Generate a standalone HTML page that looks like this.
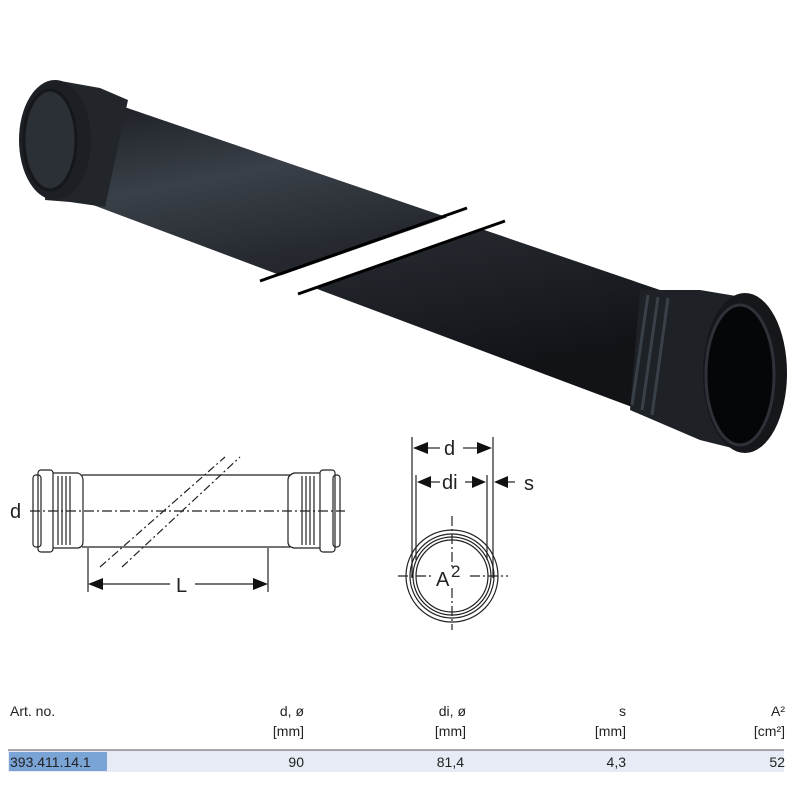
<!DOCTYPE html>
<html><head><style>
body{margin:0;width:800px;height:800px;background:#fff;overflow:hidden;font-family:"Liberation Sans",sans-serif;position:relative}
.t{position:absolute;font-size:14px;color:#222;line-height:20px}
.r{text-align:right}
</style></head><body>
<svg width="800" height="800" style="position:absolute;left:0;top:0">
<defs>
<linearGradient id="g" x1="0" y1="0" x2="0.35" y2="1">
<stop offset="0" stop-color="#1a1d22"/><stop offset="0.3" stop-color="#3a4048"/><stop offset="0.55" stop-color="#262a30"/><stop offset="1" stop-color="#111317"/>
</linearGradient>
</defs>
<polygon points="95,97 660,290 640,410 85,202" fill="url(#g)"/>
<polygon points="55,80 100,88 128,100 105,207 70,202 45,200" fill="#22262b"/>
<ellipse cx="55" cy="140" rx="36" ry="60" fill="#1c1f24"/>
<ellipse cx="50" cy="140" rx="26" ry="50" fill="#2b3036" stroke="#15171a" stroke-width="3"/>
<polygon points="640,290 700,290 760,300 740,450 700,440 630,410" fill="#1e2126"/>
<line x1="648" y1="295" x2="632" y2="405" stroke="#3a4048" stroke-width="3"/>
<line x1="658" y1="297" x2="642" y2="410" stroke="#3a4048" stroke-width="3"/>
<line x1="668" y1="298" x2="652" y2="415" stroke="#3a4048" stroke-width="3"/>
<ellipse cx="745" cy="373" rx="42" ry="80" fill="#15171b"/>
<ellipse cx="740" cy="375" rx="34" ry="70" fill="#050607" stroke="#2e3238" stroke-width="3"/>
<polygon points="262,282 468,210 505,222 298,294" fill="#fff"/>
<line x1="260" y1="281" x2="467" y2="208" stroke="#000" stroke-width="3"/>
<line x1="298" y1="294" x2="505" y2="221" stroke="#000" stroke-width="3"/>
<g fill="none" stroke="#222" stroke-width="1.2">
<line x1="82" y1="475" x2="290" y2="475"/><line x1="82" y1="547" x2="290" y2="547"/>
<rect x="33" y="475" width="8" height="72" rx="3"/>
<rect x="38" y="470" width="15" height="82" rx="3"/>
<path d="M53 473 H78 Q83 475 83 480 V542 Q83 547 78 548 H53"/>
<path d="M58 476V545M62 476V545M66 476V545M70 476V545"/>
<rect x="320" y="470" width="15" height="82" rx="3"/>
<rect x="333" y="475" width="7" height="72" rx="3"/>
<path d="M320 473 H294 Q288 475 288 480 V542 Q288 547 294 548 H320"/>
<path d="M302 476V545M306 476V545M310 476V545M314 476V545"/>
<line x1="88" y1="548" x2="88" y2="592"/><line x1="268" y1="548" x2="268" y2="592"/>
<line x1="30" y1="511" x2="345" y2="511" stroke-dasharray="10,3,2,3"/>
<line x1="100" y1="567" x2="225" y2="457" stroke-dasharray="8,3,2,3"/>
<line x1="122" y1="567" x2="240" y2="457" stroke-dasharray="8,3,2,3"/>
<line x1="103" y1="584" x2="170" y2="584"/><line x1="195" y1="584" x2="258" y2="584"/>
<circle cx="452" cy="576" r="46"/><circle cx="452" cy="576" r="42"/><circle cx="452" cy="576" r="39"/><circle cx="452" cy="576" r="36"/>
<line x1="412" y1="437" x2="412" y2="578"/><line x1="493" y1="437" x2="493" y2="578"/>
<line x1="416" y1="475" x2="416" y2="560"/><line x1="487" y1="475" x2="487" y2="560"/>
<line x1="398" y1="576" x2="508" y2="576" stroke-dasharray="10,3,2,3"/>
<line x1="452" y1="516" x2="452" y2="630" stroke-dasharray="10,3,2,3"/>
<line x1="426" y1="448" x2="440" y2="448"/><line x1="463" y1="448" x2="478" y2="448"/>
<line x1="428" y1="482" x2="440" y2="482"/><line x1="465" y1="482" x2="476" y2="482"/>
<line x1="506" y1="482" x2="515" y2="482"/>
</g>
<g fill="#111">
<polygon points="88,584 103,578 103,590"/><polygon points="268,584 253,578 253,590"/>
<polygon points="413,448 428,442 428,454"/><polygon points="492,448 477,442 477,454"/>
<polygon points="417,482 431,476 431,488"/><polygon points="486,482 472,476 472,488"/>
<polygon points="494,482 508,476 508,488"/>
</g>
<rect x="434" y="568" width="34" height="20" fill="#fff"/>
<g font-family="Liberation Sans,sans-serif" font-size="20" fill="#222">
<text x="10" y="518">d</text><text x="176" y="592">L</text>
<text x="444" y="455">d</text><text x="442" y="489">di</text><text x="524" y="490">s</text>
<text x="436" y="586">A</text><text x="451" y="577" font-size="17">2</text>
</g>
<rect x="8" y="750" width="776" height="22" fill="#e6ebf5"/>
<line x1="8" y1="750" x2="784" y2="750" stroke="#555" stroke-width="1"/>
<rect x="9" y="752" width="98" height="19" fill="#7aa3d6"/>
</svg>
<div class="t" style="left:10px;top:701px">Art. no.</div>
<div class="t r" style="left:200px;top:701px;width:104px">d, ø<br>[mm]</div>
<div class="t r" style="left:360px;top:701px;width:106px">di, ø<br>[mm]</div>
<div class="t r" style="left:530px;top:701px;width:96px">s<br>[mm]</div>
<div class="t r" style="left:690px;top:701px;width:95px">A²<br>[cm²]</div>
<div class="t" style="left:10px;top:752px">393.411.14.1</div>
<div class="t r" style="left:200px;top:752px;width:104px">90</div>
<div class="t r" style="left:360px;top:752px;width:104px">81,4</div>
<div class="t r" style="left:530px;top:752px;width:96px">4,3</div>
<div class="t r" style="left:690px;top:752px;width:95px">52</div>
</body></html>
